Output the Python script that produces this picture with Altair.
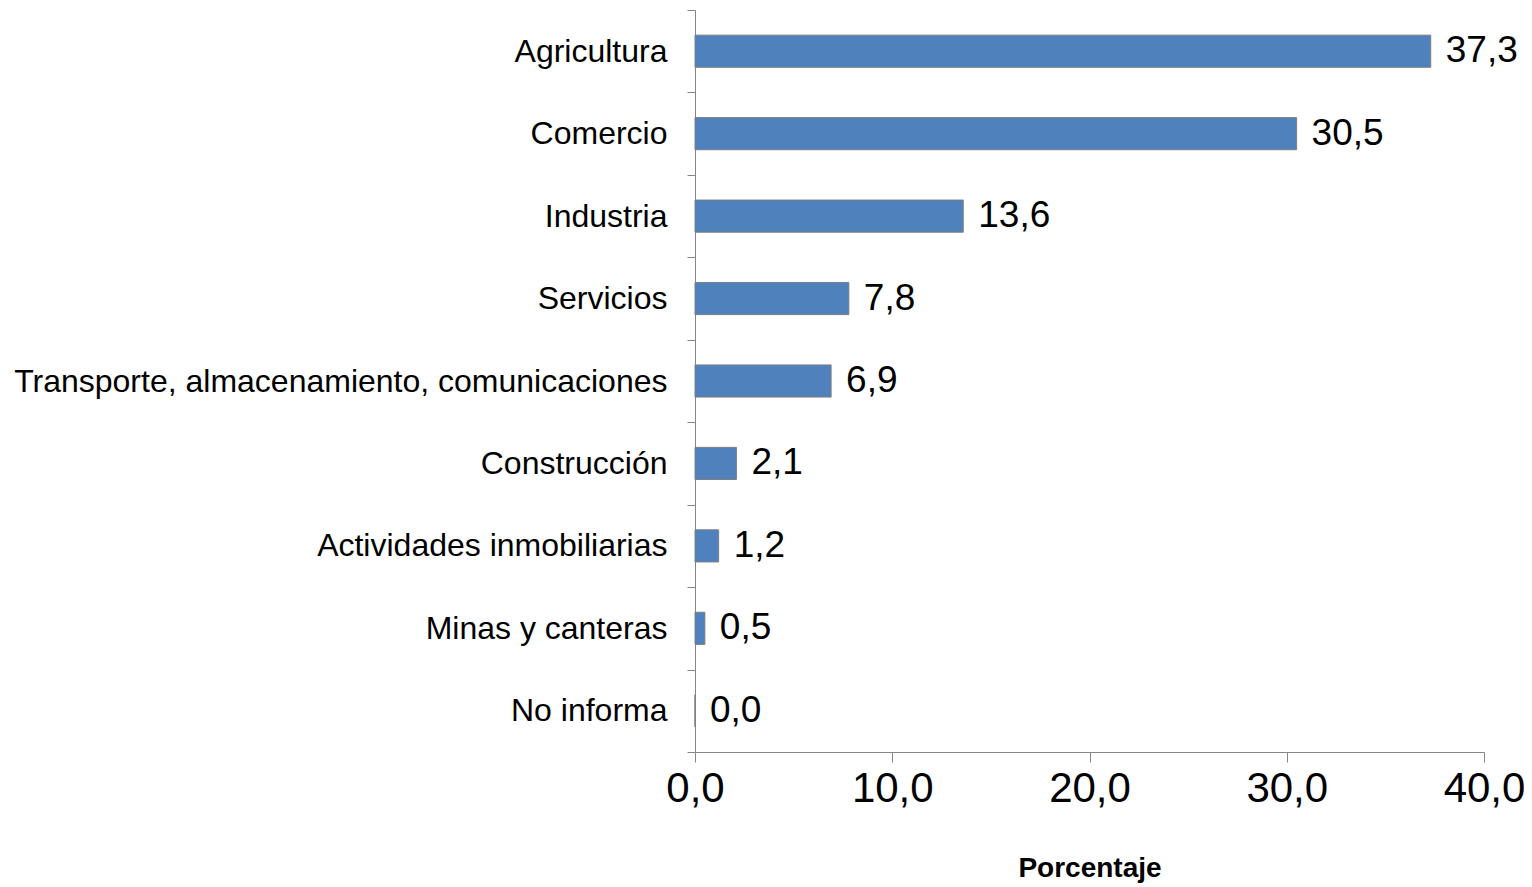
import altair as alt
import pandas as pd

categories = ["Agricultura", "Comercio", "Industria", "Servicios",
              "Transporte, almacenamiento, comunicaciones", "Construcción",
              "Actividades inmobiliarias", "Minas y canteras", "No informa"]
values = [37.3, 30.5, 13.6, 7.8, 6.9, 2.1, 1.2, 0.5, 0.0]

df = pd.DataFrame({"cat": categories, "val": values})

FONT = "Liberation Sans"
AXC = "#868686"

y = alt.Y("cat:N", sort=categories,
          scale=alt.Scale(paddingInner=0, paddingOuter=0),
          axis=alt.Axis(title=None, tickBand="extent", labelFont=FONT, labelFontSize=32,
                        labelColor="black", labelPadding=20, tickSize=8, tickColor=AXC,
                        domainColor=AXC, ticks=True, grid=False, labelLimit=1000))
x = alt.X("val:Q", scale=alt.Scale(domain=[0, 40], nice=False),
          axis=alt.Axis(title="Porcentaje", values=[0, 10, 20, 30, 40],
                        labelExpr="replace(format(datum.value,'.1f'),'.',',')",
                        labelFont=FONT, labelFontSize=42, labelColor="black", labelFlush=False,
                        labelPadding=6, tickSize=10, tickColor=AXC, domainColor=AXC,
                        grid=False, titleFont=FONT, titleFontSize=28, titleFontWeight="bold",
                        titleColor="black", titlePadding=45))

bars = alt.Chart(df).mark_bar(color="#4F81BD", stroke="#7F7F7F", strokeWidth=1,
                              height=alt.RelativeBandSize(band=0.39)).encode(x=x, y=y)
text = alt.Chart(df).transform_calculate(
    lab="replace(format(datum.val,'.1f'),'.',',')"
).mark_text(align="left", baseline="middle", dx=15, font=FONT, fontSize=37, color="black").encode(
    x="val:Q", y=alt.Y("cat:N", sort=categories), text="lab:N")

chart = alt.layer(bars, text).properties(
    width=789, height=742,
    autosize=alt.AutoSizeParams(type="none"),
    padding={"left": 687, "top": 2, "right": 40, "bottom": 136}
).configure_view(stroke=None)

chart.save("out.html", embed_options={"renderer": "svg", "actions": False})
